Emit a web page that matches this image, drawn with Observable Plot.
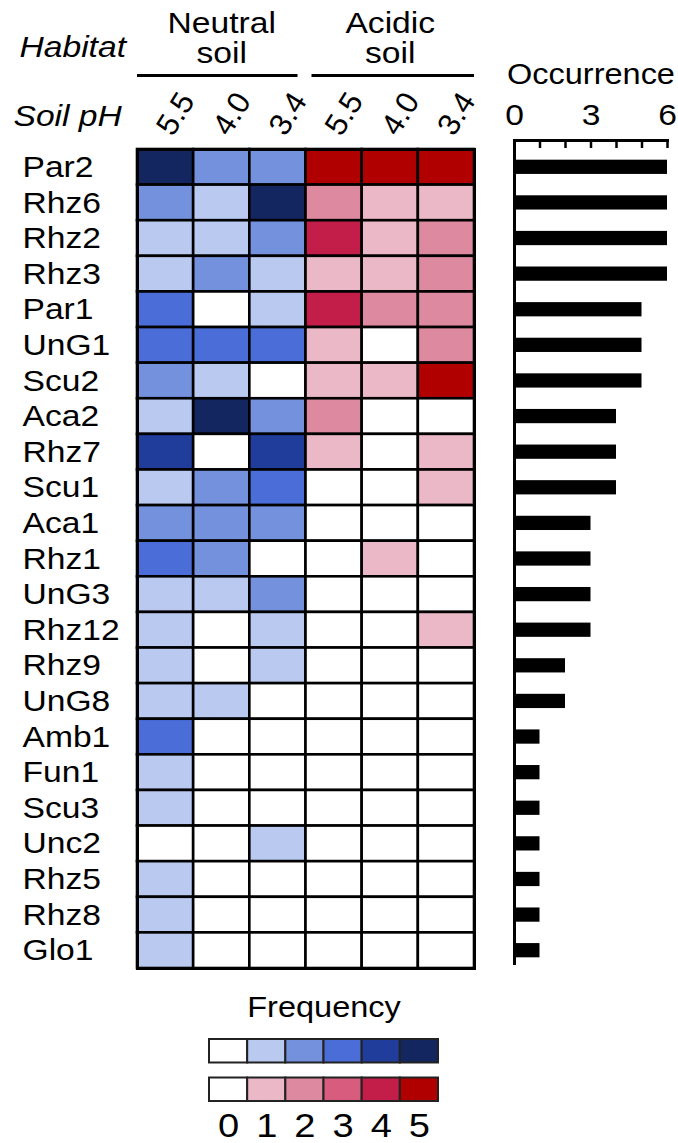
<!DOCTYPE html>
<html><head><meta charset="utf-8">
<script src="https://cdn.jsdelivr.net/npm/d3@7"></script>
<script src="https://cdn.jsdelivr.net/npm/@observablehq/plot@0.6"></script>
<style>
body{margin:0;background:#fff;}
#wrap{position:relative;width:678px;height:1143px;font-family:"Liberation Sans",Arial,sans-serif;}
#wrap svg{position:absolute;left:0;top:0;overflow:visible;}
</style></head><body><div id="wrap"></div>
<script>
const taxa = ["Par2","Rhz6","Rhz2","Rhz3","Par1","UnG1","Scu2","Aca2","Rhz7","Scu1","Aca1","Rhz1","UnG3","Rhz12","Rhz9","UnG8","Amb1","Fun1","Scu3","Unc2","Rhz5","Rhz8","Glo1"];
const columns = ["N5.5","N4.0","N3.4","A5.5","A4.0","A3.4"];
const phLabels = ["5.5","4.0","3.4","5.5","4.0","3.4"];
const neutral_pH55 = [5,2,1,1,3,3,2,1,4,1,2,3,1,1,1,1,3,1,1,0,1,1,1];
const neutral_pH40 = [2,1,1,2,0,3,1,5,0,2,2,2,1,0,0,1,0,0,0,0,0,0,0];
const neutral_pH34 = [2,5,2,1,1,3,0,2,4,3,2,0,2,1,1,0,0,0,0,1,0,0,0];
const acidic_pH55  = [5,2,4,1,4,1,1,2,1,0,0,0,0,0,0,0,0,0,0,0,0,0,0];
const acidic_pH40  = [5,1,1,1,2,0,1,0,0,0,0,1,0,0,0,0,0,0,0,0,0,0,0];
const acidic_pH34  = [5,1,2,2,2,2,5,0,1,1,0,0,0,1,0,0,0,0,0,0,0,0,0];
const occurrence   = [6,6,6,6,5,5,5,4,4,4,3,3,3,3,2,2,1,1,1,1,1,1,1];
const frequencyLevels = [0,1,2,3,4,5];
const habitats = [
  {name:"Neutral\nsoil", group:"N", first:"N5.5", mid:"N4.0", last:"N3.4"},
  {name:"Acidic\nsoil",  group:"A", first:"A5.5", mid:"A4.0", last:"A3.4"}
];
const blueColors = ["#ffffff","#b9c9f0","#7391dc","#4a6dd8","#213d9c","#14265f"];
const redColors  = ["#ffffff","#eab8c6","#dd8aa1","#d75c7d","#c31d49","#b00000"];

const series = [neutral_pH55, neutral_pH40, neutral_pH34, acidic_pH55, acidic_pH40, acidic_pH34];
const cells = [];
columns.forEach((c, j) => taxa.forEach((t, i) => cells.push({col:c, taxon:t, key:c[0] + series[j][i]})));
const occData = taxa.map((t, i) => ({taxon:t, occ:occurrence[i]}));
const legendCells = [];
["N","A"].forEach(g => frequencyLevels.forEach(v => legendCells.push({g, v, key:g+v})));
const colorScale = {type:"ordinal",
  domain:[...frequencyLevels.map(v=>"N"+v), ...frequencyLevels.map(v=>"A"+v)],
  range:[...blueColors, ...redColors]};
const style = {fontFamily:"'Liberation Sans', Arial, sans-serif", fontSize:"29px", color:"black", background:"transparent", overflow:"visible"};

const W = 678, H = 1143, top0 = 149, bot0 = 968, left0 = 137, right0 = 474;
const rowH = (bot0 - top0) / taxa.length;

const heat = Plot.plot({
  width:W, height:H, marginLeft:left0, marginRight:W-right0, marginTop:top0, marginBottom:H-bot0,
  style,
  x:{domain:columns, padding:0, round:false, axis:null},
  y:{domain:taxa, padding:0, round:false},
  color:colorScale,
  marks:[
    Plot.cell(cells, {x:"col", y:"taxon", fill:"key", stroke:"black", strokeWidth:2.6}),
    Plot.frame({stroke:"black", strokeWidth:3}),
    Plot.axisY({tickSize:0, tickPadding:0, textAnchor:"start", dx:-(left0-22), label:null, fontSize:30}),
    Plot.text(columns, {x:d=>d, text:(d,i)=>phLabels[i], frameAnchor:"top", dy:107-top0, rotate:-58, fontSize:31}),
    Plot.text(habitats, {x:"mid", text:"name", frameAnchor:"top", dy:62-top0, lineAnchor:"bottom", lineHeight:1.0, fontSize:30}),
    Plot.ruleY(habitats.slice(0,1), {x1:"first", x2:"last", y:()=>taxa[0], dy:75-(top0+rowH/2), insetRight:8, strokeWidth:3}),
    Plot.ruleY(habitats.slice(1), {x1:"first", x2:"last", y:()=>taxa[0], dy:75-(top0+rowH/2), insetLeft:6, strokeWidth:3}),
    Plot.text(["Habitat"], {frameAnchor:"top-left", dx:19-left0, dy:56-top0, textAnchor:"start", lineAnchor:"bottom", fontStyle:"italic", fontSize:30}),
    Plot.text(["Soil pH"], {frameAnchor:"top-left", dx:13-left0, dy:125-top0, textAnchor:"start", lineAnchor:"bottom", fontStyle:"italic", fontSize:30})
  ]
});

const bars = Plot.plot({
  width:W, height:H, marginLeft:514, marginRight:W-667, marginTop:140, marginBottom:H-965,
  style,
  x:{domain:[0,6]},
  y:{domain:taxa, range:[top0, bot0], paddingInner:0.6, paddingOuter:0.3, round:false, axis:null},
  marks:[
    Plot.barX(occData, {x:"occ", y:"taxon", fill:"black"}),
    Plot.axisX({anchor:"top", ticks:d3.range(0,7), tickSize:-7, tickPadding:23, strokeWidth:2.5, tickFormat:d => d % 3 === 0 ? String(d) : "", label:null, fontSize:30}),
    Plot.frame({anchor:"top", strokeWidth:3}),
    Plot.ruleX([0], {strokeWidth:3}),
    Plot.text(["Occurrence"], {frameAnchor:"top", dy:83-140, lineAnchor:"bottom", fontSize:29})
  ]
});

const legend = Plot.plot({
  width:W, height:H, marginLeft:209, marginRight:W-438, marginTop:1039, marginBottom:H-1101,
  style,
  x:{domain:frequencyLevels, padding:0, round:false},
  y:{domain:["N","A"], paddingInner:0.39, paddingOuter:0, round:false, axis:null},
  color:colorScale,
  marks:[
    Plot.cell(legendCells, {x:"v", y:"g", fill:"key", stroke:"#222", strokeWidth:2}),
    Plot.axisX({anchor:"bottom", tickSize:0, tickPadding:11, label:null, fontSize:34}),
    Plot.text(["Frequency"], {frameAnchor:"top", dy:1016-1039, lineAnchor:"bottom", fontSize:29})
  ]
});

const wrap = document.getElementById("wrap");
[heat, bars, legend].forEach(s => wrap.appendChild(s));

function stretch(svg, k) {
  svg.querySelectorAll("text").forEach(t => {
    const tr = t.getAttribute("transform") || "";
    if (tr.includes("rotate")) return;
    const spans = t.querySelectorAll("tspan");
    const els = spans.length ? Array.from(spans) : [t];
    els.forEach(e => {
      const L = e.getComputedTextLength();
      if (L > 0) { e.setAttribute("textLength", L * k); e.setAttribute("lengthAdjust", "spacingAndGlyphs"); }
    });
  });
}
[heat, bars, legend].forEach(s => stretch(s, 1.12));
</script></body></html>
